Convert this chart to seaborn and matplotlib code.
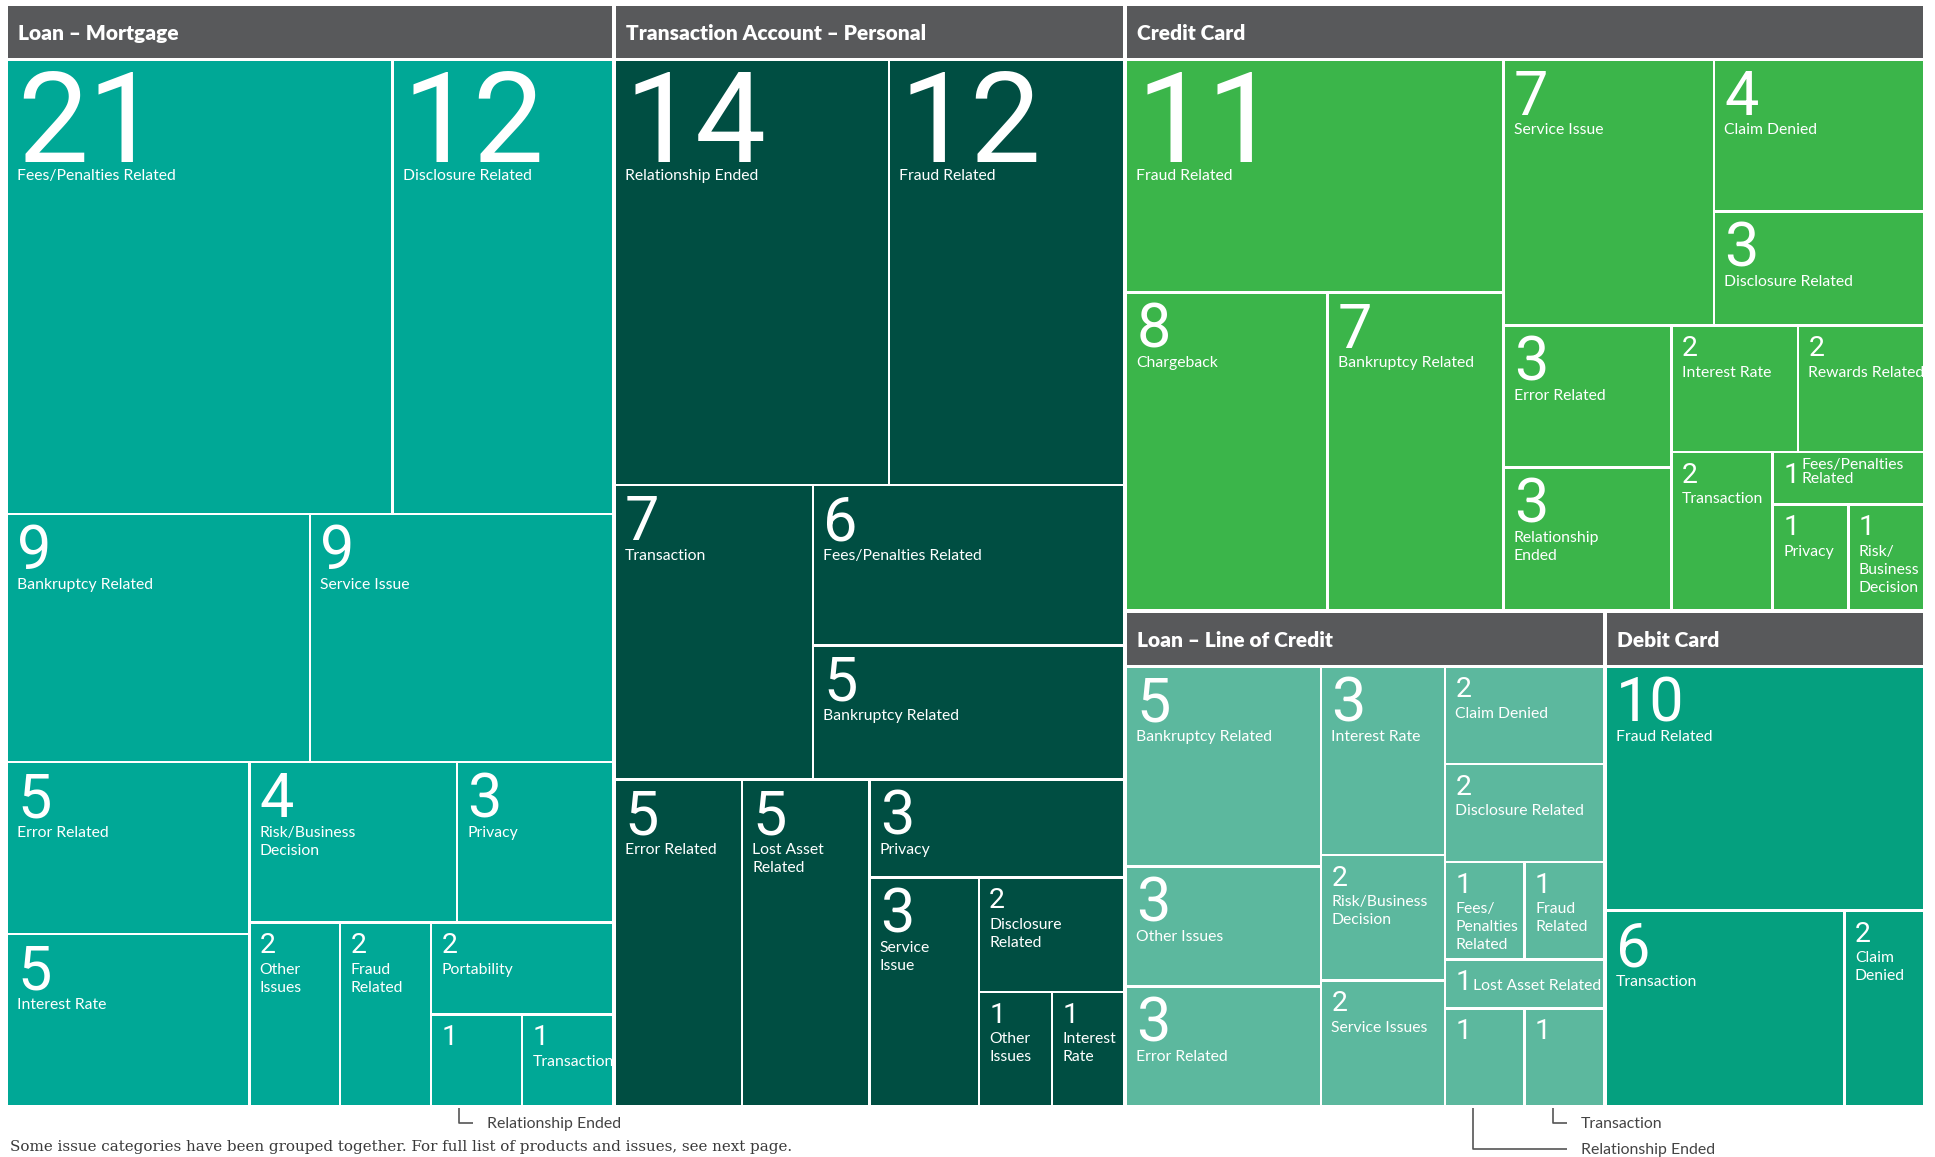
import matplotlib
matplotlib.use("Agg")
import matplotlib.pyplot as plt
import seaborn as sns

# complaint counts by product / issue (treemap)
groups = ["Loan – Mortgage", "Transaction Account – Personal", "Credit Card",
          "Loan – Line of Credit", "Debit Card"]
group_colors = ["#00a896", "#004e42", "#3bb54a", "#5cb89e", "#05a07f"]
header_color = "#58595b"

mortgage_counts = [21, 12, 9, 9, 5, 5, 4, 3, 2, 2, 2, 1, 1]
mortgage_issues = ["Fees/Penalties Related", "Disclosure Related", "Bankruptcy Related",
                   "Service Issue", "Error Related", "Interest Rate", "Risk/Business\nDecision",
                   "Privacy", "Other\nIssues", "Fraud\nRelated", "Portability", "", "Transaction"]

personal_counts = [14, 12, 7, 6, 5, 5, 5, 3, 3, 2, 1, 1]
personal_issues = ["Relationship Ended", "Fraud Related", "Transaction", "Fees/Penalties Related",
                   "Bankruptcy Related", "Error Related", "Lost Asset\nRelated", "Privacy",
                   "Service\nIssue", "Disclosure\nRelated", "Other\nIssues", "Interest\nRate"]

credit_counts = [11, 8, 7, 7, 4, 3, 3, 3, 2, 2, 2, 1, 1, 1]
credit_issues = ["Fraud Related", "Chargeback", "Bankruptcy Related", "Service Issue",
                 "Claim Denied", "Disclosure Related", "Error Related", "Relationship\nEnded",
                 "Interest Rate", "Rewards Related", "Transaction", "Fees/Penalties\nRelated",
                 "Privacy", "Risk/\nBusiness\nDecision"]

loc_counts = [5, 3, 3, 3, 2, 2, 2, 2, 1, 1, 1, 1, 1]
loc_issues = ["Bankruptcy Related", "Other Issues", "Error Related", "Interest Rate",
              "Risk/Business\nDecision", "Service Issues", "Claim Denied", "Disclosure Related",
              "Fees/\nPenalties\nRelated", "Fraud\nRelated", "Lost Asset Related", "", ""]

debit_counts = [10, 6, 2]
debit_issues = ["Fraud Related", "Transaction", "Claim\nDenied"]

all_counts = [mortgage_counts, personal_counts, credit_counts, loc_counts, debit_counts]
all_issues = [mortgage_issues, personal_issues, credit_issues, loc_issues, debit_issues]

# nesting of the slice-and-dice layout ('h' = side by side, 'v' = stacked)
top_tree = ('h', [0, 1, ('v', [2, ('h', [3, 4])])])
trees = [
    ('v', [('h', [0, 1]), ('h', [2, 3]),
           ('h', [('v', [4, 5]), ('v', [('h', [6, 7]), ('h', [8, 9, ('v', [10, ('h', [11, 12])])])])])]),
    ('v', [('h', [0, 1]), ('h', [2, ('v', [3, 4])]),
           ('h', [5, 6, ('v', [7, ('h', [8, ('v', [9, ('h', [10, 11])])])])])]),
    ('h', [('v', [0, ('h', [1, 2])]),
           ('v', [('h', [3, ('v', [4, 5])]),
                  ('h', [('v', [6, 7]), ('v', [('h', [8, 9]), ('h', [10, ('v', [11, ('h', [12, 13])])])])])])]),
    ('h', [('v', [0, 1, 2]), ('v', [3, 4, 5]), ('v', [6, 7, ('h', [8, 9]), 10, ('h', [11, 12])])]),
    ('v', [0, ('h', [1, 2])]),
]
inline = {(2, 11), (3, 10)}

notes = [(0, 11, "Relationship Ended", 0), (3, 12, "Transaction", 0), (3, 11, "Relationship Ended", 1)]
footnote = "Some issue categories have been grouped together. For full list of products and issues, see next page."


def weight(node, vals):
    if isinstance(node, int):
        return vals[node]
    return sum(weight(k, vals) for k in node[1])


def split(node, x, y, w, h, vals, out):
    if isinstance(node, int):
        out[node] = (x, y, w, h)
        return
    kind, kids = node
    tot = sum(weight(k, vals) for k in kids)
    pos = 0.0
    for k in kids:
        f = weight(k, vals) / tot
        if kind == 'h':
            split(k, x + pos * w, y, f * w, h, vals, out)
        else:
            split(k, x, y + pos * h, w, f * h, vals, out)
        pos += f


sns.set_theme(style="white")
plt.rcParams['font.family'] = ['Lato', 'DejaVu Sans']

fig = plt.figure(figsize=(19.35, 11.57), dpi=100)
ax = fig.add_axes([0, 0, 1, 1])
ax.set_xlim(0, 1935)
ax.set_ylim(1157, 0)
ax.axis('off')

group_rects = {}
split(top_tree, 6, 4, 1919, 1103, [sum(c) for c in all_counts], group_rects)

GAP, CG, HEAD = 2.0, 1.3, 52
num_style = {'big': (91, 11 + 90, 18), 'mid': (44, 10 + 44, 19.5), 'small': (20.5, 9 + 20.5, 20.5)}
cell_rects = []

for g, name in enumerate(groups):
    gx, gy, gw, gh = group_rects[g]
    gx, gy, gw, gh = gx + GAP, gy + GAP, gw - 2 * GAP, gh - 2 * GAP
    ax.bar(gx, HEAD, width=gw, bottom=gy, align='edge', color=header_color, linewidth=0)
    ax.text(gx + 10, gy + 34, name, color='white', fontsize=15, fontweight='heavy', va='baseline')

    counts, issues = all_counts[g], all_issues[g]
    rects = {}
    split(trees[g], gx - CG, gy + HEAD + 3 - CG, gw + 2 * CG, gh - HEAD - 3 + 2 * CG, counts, rects)
    cell_rects.append(rects)
    for i, v in enumerate(counts):
        x, y, w, h = rects[i]
        x, y, w, h = x + CG, y + CG, w - 2 * CG, h - 2 * CG
        ax.bar(x, h, width=w, bottom=y, align='edge', color=group_colors[g], linewidth=0)
        tier = 'big' if v >= 11 else ('mid' if v >= 3 else 'small')
        fs, base, lab = num_style[tier]
        ax.text(x + 9, y + base, str(v), color='white', fontsize=fs, va='baseline',
                family=['Roboto', 'DejaVu Sans'])
        lines = issues[i].split('\n') if issues[i] else []
        if (g, i) in inline:
            for j, line in enumerate(lines):
                ax.text(x + 27, y + base - 14 * (len(lines) - 1 - j), line, color='white',
                        fontsize=11.3, va='baseline')
        else:
            for j, line in enumerate(lines):
                ax.text(x + 9, y + base + lab + 18 * j, line, color='white',
                        fontsize=11.3, va='baseline')

# leader notes under the unlabeled cells
for g in set(n[0] for n in notes):
    gnotes = [n for n in notes if n[0] == g]
    xs = [cell_rects[g][n[1]][0] + CG + 27 for n in gnotes]
    tx = max(xs) + 28
    for (gg, i, text, row), lx in zip(gnotes, xs):
        ly = 1123 + 26 * row
        ax.plot([lx, lx, tx - 14], [1108, ly, ly], color='#555555', lw=1.2, solid_capstyle='butt')
        ax.text(tx, ly + 5, text, color='#444444', fontsize=11.4, va='baseline')

ax.text(10, 1151.5, footnote, color='#3a3a3a', fontsize=10.9, va='baseline',
        family=['DejaVu Serif', 'Liberation Serif'])

fig.savefig("out.png", dpi=100)
